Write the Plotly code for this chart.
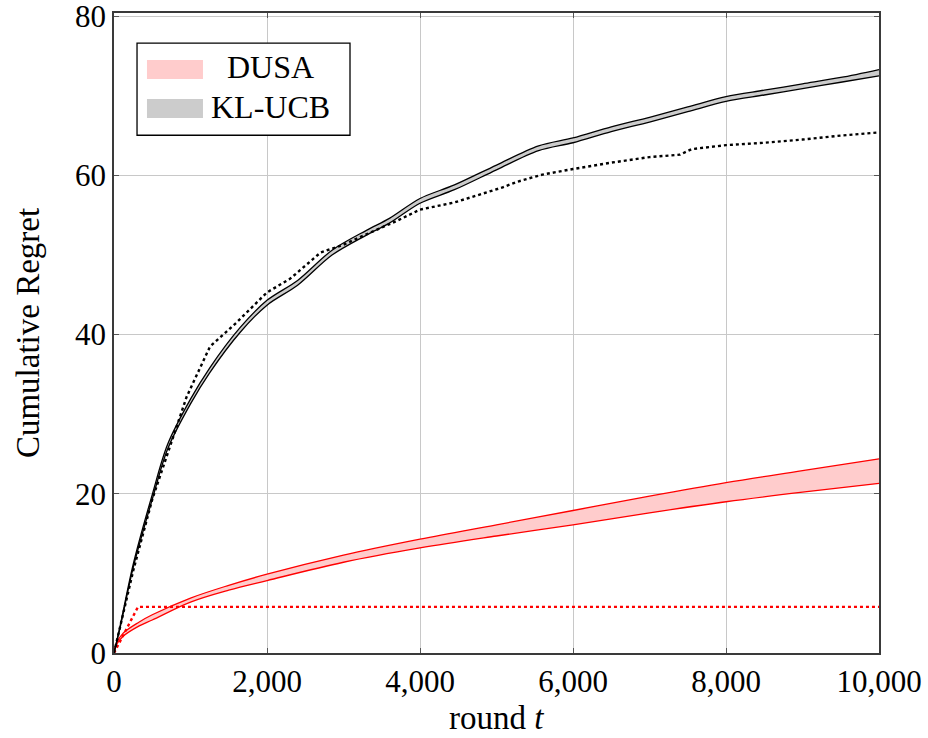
import plotly.graph_objects as go

# ---------------- data ----------------
# KL-UCB confidence band (solid black edges, gray fill)
kl_t = [0, 80, 250, 500, 700, 1000, 1250, 1650, 2000, 2400, 2850, 3300, 3600,
        4000, 4450, 5000, 5550, 6000, 6500, 7000, 7500, 8000, 8500, 9000, 9500, 10000]
kl_lo = [0, 3.2, 10.7, 19.3, 25.6, 31.3, 35.2, 40.3, 43.7, 46.2, 50.0, 52.5, 54.0,
         56.5, 58.2, 60.7, 63.1, 64.1, 65.5, 66.7, 68.0, 69.3, 70.1, 70.9, 71.7, 72.5]
kl_hi = [0, 3.4, 11.1, 19.9, 26.2, 31.9, 35.8, 40.9, 44.3, 46.8, 50.6, 53.1, 54.6,
         57.1, 58.8, 61.3, 63.7, 64.7, 66.1, 67.3, 68.6, 69.9, 70.7, 71.5, 72.3, 73.3]

# KL-UCB dotted reference curve
kld_t = [0, 250, 500, 950, 1255, 1600, 2000, 2300, 2700, 3000, 3300, 3700, 4000,
         4450, 4750, 5080, 5270, 5600, 6000, 6500, 7000, 7400, 7550, 8000, 8500,
         9000, 9500, 10000]
kld = [0, 10.3, 19.3, 32.2, 38.5, 41.5, 45.3, 47.0, 50.3, 51.3, 52.6, 54.3, 55.7,
       56.6, 57.5, 58.5, 59.2, 60.1, 60.8, 61.6, 62.3, 62.6, 63.3, 63.8, 64.1,
       64.5, 65.0, 65.4]

# DUSA confidence band (red edges, pink fill)
du_t = [0, 30, 120, 330, 500, 1000, 1500, 2000, 3000, 4000, 5000, 6000, 7000,
        8000, 9000, 10000]
du_lo = [0, 1.0, 2.1, 3.4, 4.15, 6.4, 7.9, 9.1, 11.4, 13.2, 14.7, 16.1, 17.6,
         19.0, 20.2, 21.3]
du_hi = [0, 1.2, 2.5, 3.9, 4.8, 6.9, 8.5, 9.9, 12.3, 14.3, 16.1, 17.9, 19.7,
         21.4, 22.9, 24.4]

# DUSA dotted reference curve
dud_t = [0, 314, 10000]
dud = [0, 5.8, 5.8]

x_ticks = [0, 2000, 4000, 6000, 8000, 10000]
x_labels = ["0", "2,000", "4,000", "6,000", "8,000", "10,000"]
y_ticks = [0, 20, 40, 60, 80]
y_labels = ["0", "20", "40", "60", "80"]

legend_names = ["DUSA", "KL-UCB"]
x_title = "round <i>t</i>"
y_title = "Cumulative Regret"

FONT = "Liberation Serif"
RED = "#ff0000"
PINK = "#ffcccc"
GRAY = "#cccccc"

fig = go.Figure()

# DUSA band
fig.add_trace(go.Scatter(x=du_t, y=du_lo, mode="lines", line=dict(color=RED, width=1.3, shape="spline", smoothing=1.0),
                         showlegend=False, hoverinfo="skip"))
fig.add_trace(go.Scatter(x=du_t, y=du_hi, mode="lines", line=dict(color=RED, width=1.3, shape="spline", smoothing=1.0),
                         fill="tonexty", fillcolor=PINK, name=legend_names[0], showlegend=False))
# DUSA dotted
fig.add_trace(go.Scatter(x=dud_t, y=dud, mode="lines", line=dict(color=RED, width=2.4, dash="dot"),
                         showlegend=False))

# KL-UCB band
fig.add_trace(go.Scatter(x=kl_t, y=kl_lo, mode="lines", line=dict(color="black", width=1.3, shape="spline", smoothing=0.9),
                         showlegend=False, hoverinfo="skip"))
fig.add_trace(go.Scatter(x=kl_t, y=kl_hi, mode="lines", line=dict(color="black", width=1.3, shape="spline", smoothing=0.9),
                         fill="tonexty", fillcolor=GRAY, name=legend_names[1], showlegend=False))
# KL-UCB dotted
fig.add_trace(go.Scatter(x=kld_t, y=kld, mode="lines", line=dict(color="black", width=2.4, dash="dot"),
                         showlegend=False))

axis_common = dict(
    showgrid=True, gridcolor="#c8c8c8", gridwidth=1.2,
    showline=True, linecolor="#3a3a3a", linewidth=1.6,
    ticks="inside", ticklen=5, tickwidth=1.2, tickcolor="#555555",
    mirror="ticks", zeroline=False, ticklabeloverflow="allow",
    tickfont=dict(family=FONT, size=31, color="black"),
)

fig.update_xaxes(range=[0, 10000], tickvals=x_ticks, ticktext=x_labels, **axis_common)
fig.update_yaxes(range=[0, 80.4], tickvals=y_ticks, ticktext=y_labels,
                 title=dict(text=y_title, font=dict(family=FONT, size=33, color="black"), standoff=25),
                 **axis_common)

# manual legend (pgfplots-style area legend)
shapes = [
    dict(type="rect", xref="paper", yref="paper", x0=0.0301, x1=0.3085, y0=0.809, y1=0.953,
         line=dict(color="black", width=1.3), fillcolor="white", layer="above"),
    dict(type="rect", xref="paper", yref="paper", x0=0.0431, x1=0.1163, y0=0.8969, y1=0.9266,
         line=dict(width=0), fillcolor=PINK, layer="above"),
    dict(type="rect", xref="paper", yref="paper", x0=0.0431, x1=0.1163, y0=0.8359, y1=0.8656,
         line=dict(width=0), fillcolor=GRAY, layer="above"),
]
annotations = [
    dict(xref="paper", yref="paper", x=0.205, y=0.915, text=legend_names[0], showarrow=False,
         xanchor="center", yanchor="middle", font=dict(family=FONT, size=32, color="black")),
    dict(xref="paper", yref="paper", x=0.205, y=0.853, text=legend_names[1], showarrow=False,
         xanchor="center", yanchor="middle", font=dict(family=FONT, size=32, color="black")),
    # x-axis title
    dict(xref="paper", yref="paper", x=0.5, y=-0.101, text=x_title, showarrow=False,
         xanchor="center", yanchor="middle", font=dict(family=FONT, size=33, color="black")),
]

fig.update_layout(
    width=928, height=738,
    margin=dict(l=114, r=49, t=13, b=85, autoexpand=False),
    plot_bgcolor="white", paper_bgcolor="white",
    shapes=shapes, annotations=annotations,
    showlegend=False,
)

fig.write_html("out.html")
